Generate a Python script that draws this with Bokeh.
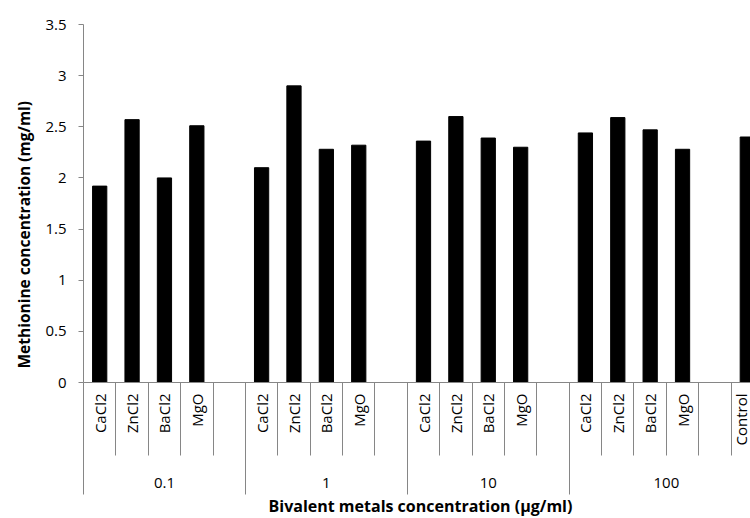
import math
from bokeh.plotting import figure
from bokeh.models import Range1d, LinearAxis, FixedTicker, ColumnDataSource, Title
from bokeh.embed import file_html
from bokeh.resources import INLINE

# ---- data ----
groups = ["0.1", "1", "10", "100"]
metals = ["CaCl2", "ZnCl2", "BaCl2", "MgO"]
values_01 = [1.92, 2.57, 2.00, 2.51]
values_1 = [2.10, 2.90, 2.28, 2.32]
values_10 = [2.36, 2.60, 2.39, 2.30]
values_100 = [2.44, 2.59, 2.47, 2.28]
control_label = "Control"
control_value = 2.40
y_ticks = [0, 0.5, 1, 1.5, 2, 2.5, 3, 3.5]
y_title = "Methionine concentration (mg/ml)"
x_title = "Bivalent metals concentration (\u00b5g/ml)"

# ---- slot layout (Excel style: 4 metals + an empty slot per group; Control closes the last group) ----
series = [values_01, values_1, values_10, values_100]
leaf_ticks, leaf_labels = [], []
bar_x, bar_top = [], []
group_bounds = [0]
group_centers = []
slot = 0
for gi, (g, vals) in enumerate(zip(groups, series)):
    start = slot
    for m, v in zip(metals, vals):
        leaf_ticks.append(slot + 0.5)
        leaf_labels.append(m)
        bar_x.append(slot + 0.5)
        bar_top.append(v)
        slot += 1
    slot += 1  # empty slot
    if gi == len(groups) - 1:
        leaf_ticks.append(slot + 0.5)
        leaf_labels.append(control_label)
        bar_x.append(slot + 0.5)
        bar_top.append(control_value)
        slot += 1
    group_bounds.append(slot)
    group_centers.append((start + slot) / 2)
n_slots = slot

# ---- layout (pixels) ----
W, H = 750, 518
LEFT, TOP, BOTTOM = 83, 24, 382          # frame edges on the page
FRAME_W = W - LEFT
SLOT_PX = 680 / n_slots                   # the reference picture is cropped at the right
visible_end = FRAME_W / SLOT_PX
Y_MAX = 3.5

FONT = "Open Sans"
GRAY = "#868686"
TXT = "#000000"

p = figure(width=W, height=H, x_range=Range1d(0, visible_end), y_range=Range1d(0, Y_MAX),
           output_backend="svg", toolbar_location=None, x_axis_location=None,
           min_border_left=LEFT, min_border_right=0, min_border_top=TOP, min_border_bottom=H - BOTTOM)
p.outline_line_color = None
p.xgrid.visible = False
p.ygrid.visible = False
p.background_fill_color = "white"
p.border_fill_color = "white"

src = ColumnDataSource(dict(x=bar_x, top=bar_top))
p.vbar(x="x", top="top", width=0.44, source=src, fill_color="black", line_color="black")

# y axis
ya = p.yaxis[0]
ya.ticker = FixedTicker(ticks=y_ticks)
ya.major_label_overrides = {t: (str(t) if t != int(t) else str(int(t))) for t in y_ticks}
ya.axis_line_color = GRAY
ya.major_tick_line_color = GRAY
ya.major_tick_out = 5
ya.major_tick_in = 0
ya.minor_tick_line_color = None
ya.major_label_standoff = 12
ya.major_label_text_font = FONT
ya.major_label_text_font_size = "15px"
ya.major_label_text_color = TXT

# x axis, level 1: metal names with separators between slots
ax1 = LinearAxis(ticker=FixedTicker(ticks=leaf_ticks, minor_ticks=list(range(n_slots + 1))),
                 major_label_overrides=dict(zip(leaf_ticks, leaf_labels)))
ax1.major_label_orientation = math.pi / 2
ax1.major_tick_out = 0
ax1.major_tick_in = 0
ax1.major_tick_line_color = None
ax1.minor_tick_in = 0
ax1.minor_tick_out = 73
ax1.minor_tick_line_color = GRAY
ax1.axis_line_color = GRAY
ax1.major_label_standoff = -62
ax1.major_label_text_font = FONT
ax1.major_label_text_font_size = "15px"
ax1.major_label_text_color = TXT
p.add_layout(ax1, "below")

# x axis, level 2: concentration groups with long separators
ax2 = LinearAxis(ticker=FixedTicker(ticks=group_centers, minor_ticks=group_bounds),
                 major_label_overrides=dict(zip(group_centers, groups)))
ax2.major_tick_out = 0
ax2.major_tick_in = 0
ax2.major_tick_line_color = None
ax2.minor_tick_in = 0
ax2.minor_tick_out = 46
ax2.minor_tick_line_color = GRAY
ax2.axis_line_color = None
ax2.major_label_standoff = -17
ax2.major_label_text_font = FONT
ax2.major_label_text_font_size = "15px"
ax2.major_label_text_color = TXT
p.add_layout(ax2, "below")

# axis titles
p.add_layout(Title(text=x_title, align="left", offset=185, standoff=4, vertical_align="bottom",
                   text_font=FONT, text_font_style="bold", text_font_size="16px", text_color=TXT),
             "below")
p.add_layout(Title(text=y_title, align="left", offset=14, standoff=14, vertical_align="middle",
                   text_font=FONT, text_font_style="bold", text_font_size="15.5px", text_color=TXT),
             "left")

open("out.html", "w").write(file_html(p, INLINE))
